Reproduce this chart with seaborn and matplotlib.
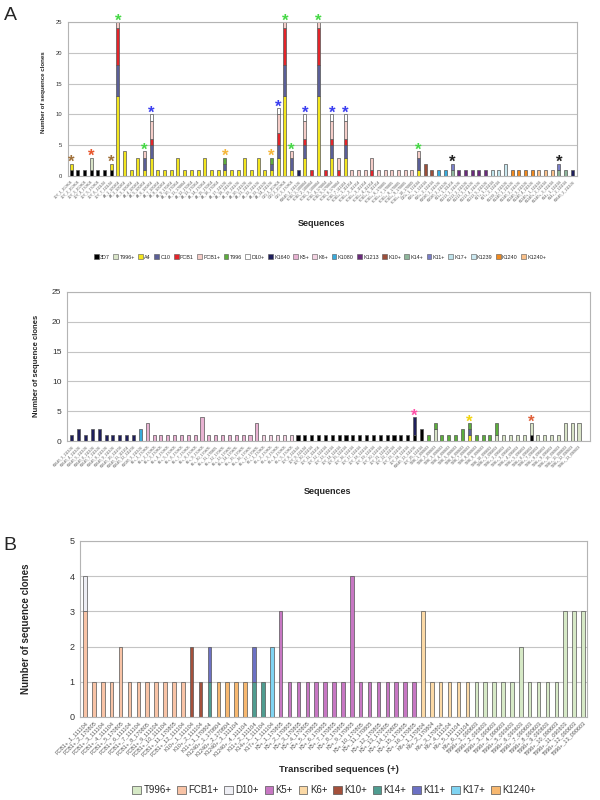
import matplotlib
matplotlib.use("Agg")
import matplotlib.pyplot as plt
from matplotlib.patches import Patch
import pandas as pd
import seaborn as sns

sns.set_style("white")
plt.rcParams["font.family"] = ["Liberation Sans", "DejaVu Sans"]

# ================= data: panel A, upper chart =================
top_labels = """3D7_1_100804 3D7_2_100804 3D7_3_100804 3D7_4_170804 3D7_5_170804 3D7_6_111104 3D7_7_111104
A4_1_100804 A4_2_100804 A4_3_100804 A4_4_100804 A4_5_100804 A4_6_100804 A4_7_100804 A4_8_100804
A4_9_170804 A4_10_170804 A4_11_170804 A4_12_170804 A4_13_170804 A4_14_170804 A4_15_170804 A4_16_170804
A4_17_111104 A4_18_111104 A4_19_111104 A4_20_111104 A4_21_111104 A4_22_111104 A4_23_111104 A4_24_111104
C10_1_100804 C10_2_100804 C10_3_170804 K1640_1_111104
FCB1_1_100804 FCB1_2_100804 FCB1_3_100804 FCB1_4_170804 FCB1_5_170804 FCB1_6_170804 FCB1_7_111104
FCB1+_1_111104 FCB1+_2_111104 FCB1+_3_111104 FCB1+_4_111104 FCB1+_5_111104
FCB1+_6_170805 FCB1+_7_170805 FCB1+_8_170805 FCB1+_9_170805 FCB1+_10_170805
D10+_1_111104 K10+_1_111104 K10+_2_111104 K1080_1_111104 K1080_2_111104 K11+_1_111104
K1213_1_111104 K1213_2_111104 K1213_3_111104 K1213_4_111104 K1213_5_111104
K17+_1_111104 K17+_2_111104 K1239_1_111104
K1240_1_111104 K1240_2_111104 K1240_3_111104 K1240_4_111104
K1240+_1_111104 K1240+_2_111104 K1240+_3_111104
K14+_1_111104 K14+_2_111104 K1640_2_111104""".split()

top_stacks = [
    {"3D7": 1, "A4": 1}, {"3D7": 1}, {"3D7": 1}, {"3D7": 1, "T996+": 2}, {"3D7": 1}, {"3D7": 1},
    {"3D7": 1, "A4": 1},
    {"A4": 13, "C10": 5, "FCB1": 6, "FCB1+": 1}, {"A4": 4}, {"A4": 1}, {"A4": 3},
    {"A4": 1, "C10": 2, "FCB1+": 1}, {"A4": 3, "C10": 2, "FCB1": 1, "FCB1+": 3, "D10+": 1},
    {"A4": 1}, {"A4": 1}, {"A4": 1}, {"A4": 3}, {"A4": 1}, {"A4": 1}, {"A4": 1}, {"A4": 3},
    {"A4": 1}, {"A4": 1}, {"A4": 1, "C10": 1, "T996": 1}, {"A4": 1}, {"A4": 1}, {"A4": 3},
    {"A4": 1}, {"A4": 3}, {"A4": 1}, {"A4": 1, "C10": 1, "T996": 1},
    {"A4": 3, "C10": 2, "FCB1": 2, "FCB1+": 3, "D10+": 1},
    {"A4": 13, "C10": 5, "FCB1": 6, "FCB1+": 1}, {"A4": 1, "C10": 2, "FCB1+": 1}, {"K1640": 1},
    {"A4": 3, "C10": 2, "FCB1": 1, "FCB1+": 3, "D10+": 1}, {"FCB1": 1},
    {"A4": 13, "C10": 5, "FCB1": 6, "FCB1+": 1}, {"FCB1": 1},
    {"A4": 3, "C10": 2, "FCB1": 1, "FCB1+": 3, "D10+": 1}, {"FCB1": 1, "FCB1+": 2},
    {"A4": 3, "C10": 2, "FCB1": 1, "FCB1+": 3, "D10+": 1},
    {"FCB1+": 1}, {"FCB1+": 1}, {"FCB1+": 1}, {"FCB1": 1, "FCB1+": 2},
    {"FCB1+": 1}, {"FCB1+": 1}, {"FCB1+": 1}, {"FCB1+": 1}, {"FCB1+": 1}, {"FCB1+": 1},
    {"A4": 1, "C10": 2, "FCB1+": 1}, {"K10+": 2}, {"K10+": 1}, {"K1080": 1}, {"K1080": 1},
    {"K14+": 1, "K11+": 1},
    {"K1213": 1}, {"K1213": 1}, {"K1213": 1}, {"K1213": 1}, {"K1213": 1},
    {"K17+": 1}, {"K17+": 1}, {"K1239": 2},
    {"K1240": 1}, {"K1240": 1}, {"K1240": 1}, {"K1240": 1},
    {"K1240+": 1}, {"K1240+": 1}, {"K1240+": 1},
    {"K14+": 1, "K11+": 1}, {"K14+": 1}, {"K1640": 1},
]

GREEN, BLUE, ORANGE, BROWN, BLACK = "#46d846", "#3a3ef0", "#f5b63a", "#a0703a", "#222222"
top_stars = [(0, BROWN), (3, "#e8552b"), (6, BROWN), (7, GREEN), (11, GREEN), (12, BLUE),
             (23, ORANGE), (30, ORANGE), (31, BLUE), (32, GREEN), (33, GREEN), (35, BLUE),
             (37, GREEN), (39, BLUE), (41, BLUE), (52, GREEN), (57, BLACK), (73, BLACK)]

# ================= data: panel A, lower chart =================
bottom_labels = """K1640_3_111104 K1640_4_111104 K1640_5_111104 K1640_6_111104 K1640_7_111104
K1640_8_111104 K1640_9_111104 K1640_10_111104 K1640_11_111104 K1640_12_111104 K1080_3_111104
K5+_1_170805 K5+_2_170805 K5+_3_170805 K5+_4_170805 K5+_5_170805 K5+_6_170805 K5+_7_170805
K5+_8_170805 K5+_9_170805 K5+_10_170805 K5+_11_170805 K5+_12_170805 K5+_13_170805 K5+_14_170805
K5+_15_170805 K5+_16_170805 K5+_17_170805
K6+_1_170805 K6+_2_170805 K6+_3_170805 K6+_4_170805 K6+_5_170805
3D7_8_111104 3D7_9_111104 3D7_10_111104 3D7_11_111104 3D7_12_111104 3D7_13_111104 3D7_14_111104
3D7_15_111104 3D7_16_111104 3D7_17_111104 3D7_18_111104 3D7_19_111104 3D7_20_111104 3D7_21_111104
3D7_22_111104 3D7_23_111104 3D7_24_111104 K1640_13_111104 3D7_25_111104
T996_1_090603 T996_2_090603 T996_3_090603 T996_4_090603 T996_5_090603 T996_6_090603 T996_7_090603
T996_8_090603 T996_9_090603 T996_10_090603
T996+_1_090603 T996+_2_090603 T996+_3_090603 T996+_4_090603 T996+_5_090603 T996+_6_090603
T996+_7_090603 T996+_8_090603 T996+_9_090603 T996+_10_090603 T996+_11_090603 T996+_12_090603
T996+_13_090603""".split()

bottom_stacks = [
    {"K1640": 1}, {"K1640": 2}, {"K1640": 1}, {"K1640": 2}, {"K1640": 2},
    {"K1640": 1}, {"K1640": 1}, {"K1640": 1}, {"K1640": 1}, {"K1640": 1}, {"K1080": 2},
    {"K5+": 3}, {"K5+": 1}, {"K5+": 1}, {"K5+": 1}, {"K5+": 1}, {"K5+": 1}, {"K5+": 1}, {"K5+": 1},
    {"K5+": 4}, {"K5+": 1}, {"K5+": 1}, {"K5+": 1}, {"K5+": 1}, {"K5+": 1}, {"K5+": 1}, {"K5+": 1},
    {"K5+": 3},
    {"K6+": 1}, {"K6+": 1}, {"K6+": 1}, {"K6+": 1}, {"K6+": 1},
    {"3D7": 1}, {"3D7": 1}, {"3D7": 1}, {"3D7": 1}, {"3D7": 1}, {"3D7": 1}, {"3D7": 1}, {"3D7": 1},
    {"3D7": 1}, {"3D7": 1}, {"3D7": 1}, {"3D7": 1}, {"3D7": 1}, {"3D7": 1}, {"3D7": 1}, {"3D7": 1},
    {"3D7": 1}, {"3D7": 1, "K1640": 3}, {"3D7": 2},
    {"T996": 1}, {"T996+": 2, "T996": 1}, {"T996": 1}, {"T996": 1}, {"T996": 1}, {"T996": 2},
    {"A4": 1, "C10": 1, "T996": 1}, {"T996": 1}, {"T996": 1}, {"T996": 1},
    {"T996+": 1, "T996": 2}, {"T996+": 1}, {"T996+": 1}, {"T996+": 1}, {"T996+": 1},
    {"3D7": 1, "T996+": 2}, {"T996+": 1}, {"T996+": 1}, {"T996+": 1}, {"T996+": 1},
    {"T996+": 3}, {"T996+": 3}, {"T996+": 3},
]
bottom_stars = [(50, "#ff50a8"), (58, "#f2d410"), (67, "#e0603a")]

# ================= data: panel B =================
b_labels = """FCB1+_1_111104 FCB1+_2_170805 FCB1+_3_111104 FCB1+_4_111104 FCB1+_5_170805 FCB1+_6_111104
FCB1+_7_111104 FCB1+_8_170805 FCB1+_9_111104 FCB1+_10_111104 FCB1+_11_170805 FCB1+_12_111104
K10+_1_111104 K10+_2_111104 K11+_1_170804 K1240+_1_170804 K1240+_2_170804 K1240+_3_111104
K1240+_4_111104 K11+_2_111104 K14+_1_111104 K17+_1_111104
K5+_1_170805 K5+_2_170805 K5+_3_170805 K5+_4_170805 K5+_5_170805 K5+_6_170805 K5+_7_170805
K5+_8_170805 K5+_9_170805 K5+_10_170805 K5+_11_170805 K5+_12_170805 K5+_13_170805 K5+_14_170805
K5+_15_170805 K5+_16_170805
K6+_1_170804 K6+_2_170804 K6+_3_170804 K6+_4_111104 K6+_5_111104 K6+_6_111104
T996+_1_090603 T996+_2_090603 T996+_3_090603 T996+_4_090603 T996+_5_090603 T996+_6_090603
T996+_7_090603 T996+_8_090603 T996+_9_090603 T996+_10_090603 T996+_11_090603 T996+_12_090603
T996+_13_090603""".split()

b_stacks = [
    {"FCB1+": 3, "D10+": 1}, {"FCB1+": 1}, {"FCB1+": 1}, {"FCB1+": 1}, {"FCB1+": 2}, {"FCB1+": 1},
    {"FCB1+": 1}, {"FCB1+": 1}, {"FCB1+": 1}, {"FCB1+": 1}, {"FCB1+": 1}, {"FCB1+": 1},
    {"K10+": 2}, {"K10+": 1}, {"K14+": 1, "K11+": 1},
    {"K1240+": 1}, {"K1240+": 1}, {"K1240+": 1}, {"K1240+": 1},
    {"K14+": 1, "K11+": 1}, {"K14+": 1}, {"K17+": 2},
    {"K5+": 3}, {"K5+": 1}, {"K5+": 1}, {"K5+": 1}, {"K5+": 1}, {"K5+": 1}, {"K5+": 1}, {"K5+": 1},
    {"K5+": 4}, {"K5+": 1}, {"K5+": 1}, {"K5+": 1}, {"K5+": 1}, {"K5+": 1}, {"K5+": 1}, {"K5+": 1},
    {"K6+": 3}, {"K6+": 1}, {"K6+": 1}, {"K6+": 1}, {"K6+": 1}, {"K6+": 1},
    {"T996+": 1}, {"T996+": 1}, {"T996+": 1}, {"T996+": 1}, {"T996+": 1}, {"T996+": 2},
    {"T996+": 1}, {"T996+": 1}, {"T996+": 1}, {"T996+": 1},
    {"T996+": 3}, {"T996+": 3}, {"T996+": 3},
]

# ================= colours / ordering =================
pal_a = {
    "3D7": "#000000", "T996+": "#d9e4c8", "A4": "#f2e51e", "C10": "#5b5f97", "FCB1": "#e4242a",
    "FCB1+": "#f5cdc8", "T996": "#5cad3c", "D10+": "#ffffff", "K1640": "#1f1f5c", "K5+": "#e8b2d2",
    "K6+": "#f4d3e2", "K1080": "#38abdc", "K1213": "#6b2b7c", "K10+": "#9c4f3a", "K14+": "#8fb79c",
    "K11+": "#7a7fc8", "K17+": "#bfe2ea", "K1239": "#cbe8f0", "K1240": "#f08a20", "K1240+": "#f9c08a",
}
legend_a = ["3D7", "T996+", "A4", "C10", "FCB1", "FCB1+", "T996", "D10+", "K1640", "K5+", "K6+",
            "K1080", "K1213", "K10+", "K14+", "K11+", "K17+", "K1239", "K1240", "K1240+"]
stack_a = ["3D7", "A4", "C10", "FCB1", "FCB1+", "D10+", "T996+", "T996", "K1640", "K10+", "K1080",
           "K14+", "K11+", "K1213", "K17+", "K1239", "K1240", "K1240+", "K5+", "K6+"]

pal_b = {
    "T996+": "#d6e9c6", "FCB1+": "#f8c3a6", "D10+": "#eeeef4", "K5+": "#c777c3", "K6+": "#fbd9a6",
    "K10+": "#a4503b", "K14+": "#4f9c90", "K11+": "#6c71c4", "K17+": "#80d4f2", "K1240+": "#f7b870",
}
legend_b = ["T996+", "FCB1+", "D10+", "K5+", "K6+", "K10+", "K14+", "K11+", "K17+", "K1240+"]
stack_b = ["FCB1+", "D10+", "K10+", "K14+", "K11+", "K17+", "K1240+", "K5+", "K6+", "T996+"]


def stacked_panel(ax, stacks, labels, order, pal, ymax, step, shrink, xlim, lab_size, tick_size):
    rows = [(i, s, n) for i, st in enumerate(stacks) for s, n in st.items()]
    df = pd.DataFrame(rows, columns=["bar", "series", "count"])
    present = [s for s in order if s in set(df["series"])]
    # histplot stacks the last hue level at the bottom
    sns.histplot(data=df, x="bar", hue="series", weights="count", hue_order=present[::-1],
                 multiple="stack", discrete=True, shrink=shrink, palette=pal, alpha=1,
                 edgecolor="#555555", linewidth=0.5, legend=False, ax=ax)
    for p in list(ax.patches):
        if p.get_height() <= 0:
            p.remove()
    ax.set_xlim(*xlim)
    ax.set_ylim(0, ymax)
    ax.set_yticks(range(0, ymax + 1, step))
    ax.set_xticks(range(len(labels)))
    ax.set_xticklabels(labels, rotation=45, ha="right", rotation_mode="anchor",
                       fontsize=lab_size, color="#555555")
    ax.tick_params(axis="y", labelsize=tick_size, length=2, width=0.6, colors="#333333", pad=2)
    ax.tick_params(axis="x", length=1.5, width=0.4, pad=1)
    ax.set_xlabel("")
    ax.set_ylabel("")
    ax.set_axisbelow(True)
    ax.yaxis.grid(True, color="#c4c4c4", linewidth=0.8)
    for sp in ax.spines.values():
        sp.set_color("#b4b4b4")
        sp.set_linewidth(0.8)
    return [sum(st.values()) for st in stacks]


def stars(ax, totals, marks):
    for i, c in marks:
        ax.annotate("*", (i, totals[i]), xytext=(0, -2.5), textcoords="offset points",
                    color=c, ha="center", va="baseline", fontsize=12, fontweight="bold",
                    annotation_clip=False)


fig = plt.figure(figsize=(6, 8), dpi=100)

# ---- A upper ----
ax1 = fig.add_axes([68 / 600, 1 - 176 / 800, 509 / 600, 154 / 800])
tot1 = stacked_panel(ax1, top_stacks, top_labels, stack_a, pal_a, 25, 5, 0.45,
                     (-0.45, 75.7), 2.6, 4.2)
stars(ax1, tot1, top_stars)

# ---- A lower ----
ax2 = fig.add_axes([67 / 600, 1 - 441 / 800, 523 / 600, 149 / 800])
tot2 = stacked_panel(ax2, bottom_stacks, bottom_labels, stack_a, pal_a, 25, 5, 0.45,
                     (-0.7, 75.6), 2.6, 6)
stars(ax2, tot2, bottom_stars)

# ---- B ----
ax3 = fig.add_axes([80 / 600, 1 - 717 / 800, 507 / 600, 176 / 800])
stacked_panel(ax3, b_stacks, b_labels, stack_b, pal_b, 5, 1, 0.4, (-0.56, 56.45), 4, 6.5)

# ---- texts ----
fig.text(0.006, 1 - 16 / 800, "A", fontsize=14, va="center")
fig.text(0.006, 1 - 546 / 800, "B", fontsize=14, va="center")
fig.text(43 / 600, 1 - 92 / 800, "Number of sequence clones", rotation=90, fontsize=4.4,
         fontweight="bold", ha="center", va="center")
fig.text(36 / 600, 1 - 366 / 800, "Number of sequence clones", rotation=90, fontsize=5.5,
         fontweight="bold", ha="center", va="center")
fig.text(26 / 600, 1 - 629 / 800, "Number of sequence clones", rotation=90, fontsize=7,
         fontweight="bold", ha="center", va="center")
fig.text(322 / 600, 1 - 223 / 800, "Sequences", fontsize=6.5, fontweight="bold",
         ha="center", va="center")
fig.text(328 / 600, 1 - 492 / 800, "Sequences", fontsize=6.5, fontweight="bold",
         ha="center", va="center")
fig.text(339 / 600, 1 - 769 / 800, "Transcribed sequences (+)", fontsize=6.8, fontweight="bold",
         ha="center", va="center")

# ---- legends ----
h_a = [Patch(facecolor=pal_a[s], edgecolor="#555555", linewidth=0.4, label=s) for s in legend_a]
fig.legend(handles=h_a, loc="center", bbox_to_anchor=(320 / 600, 1 - 257 / 800), ncol=20,
           fontsize=3.9, frameon=False, handlelength=0.9, handleheight=0.9,
           handletextpad=0.25, columnspacing=0.6)
h_b = [Patch(facecolor=pal_b[s], edgecolor="#555555", linewidth=0.5, label=s) for s in legend_b]
fig.legend(handles=h_b, loc="center", bbox_to_anchor=(334 / 600, 1 - 790 / 800), ncol=10,
           fontsize=6.9, frameon=False, handlelength=0.9, handleheight=0.9,
           handletextpad=0.25, columnspacing=0.6)

fig.savefig("out.png", dpi=100)
